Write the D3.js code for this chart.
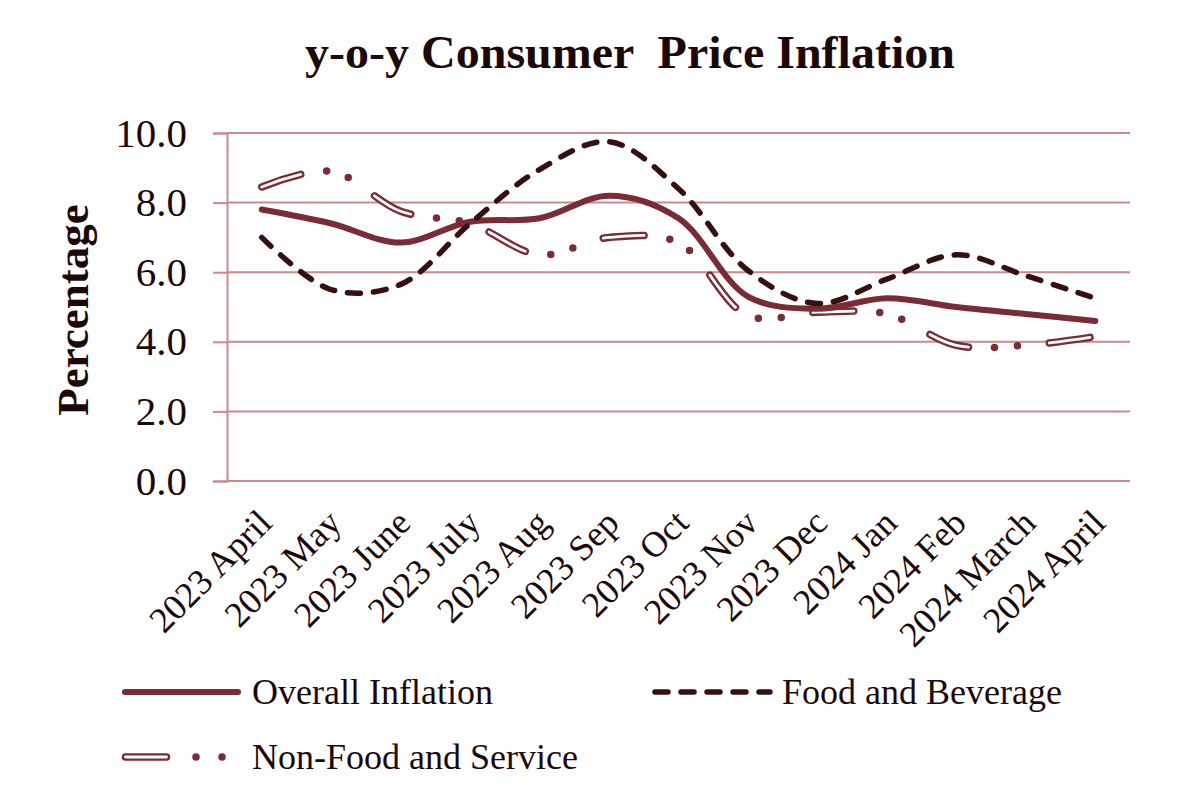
<!DOCTYPE html>
<html><head><meta charset="utf-8">
<script src="https://cdn.jsdelivr.net/npm/d3@7"></script>
<style>body{margin:0;background:#fff}svg{display:block}text{font-family:"Liberation Serif","Times New Roman",serif;fill:#1c0808}</style>
</head><body><svg id="c" width="1200" height="800"></svg>
<script>
const categories = ["2023 April","2023 May","2023 June","2023 July","2023 Aug","2023 Sep","2023 Oct","2023 Nov","2023 Dec","2024 Jan","2024 Feb","2024 March","2024 April"];
const overall = [7.8,7.4,6.85,7.45,7.55,8.2,7.55,5.3,4.95,5.25,5.0,4.8,4.6];
const foodBev = [7.0,5.5,5.65,7.4,8.95,9.75,8.4,6.05,5.1,5.8,6.5,5.9,5.25];
const nonFood = [8.45,8.9,7.75,7.4,6.5,7.0,6.85,4.75,4.85,4.8,3.9,3.9,4.15];
const yTicks = [0,2,4,6,8,10];
const title = "y-o-y Consumer  Price Inflation";
const yTitle = "Percentage";
const seriesNames = ["Overall Inflation","Food and Beverage","Non-Food and Service"];

const svg = d3.select("#c");
const L = 227, R = 1130, T = 133, B = 481;
const x = d3.scaleBand().domain(categories).range([L, R]);
const y = d3.scaleLinear().domain([0, 10]).range([B, T]);
const grid = "#c98a8c";
const cOverall = "#7a2c34", cFood = "#36100f", cNon = "#7a2c34";
const foodDash = "13 13";
const nonPat = "41 26 0 23 0 32", nonInner = "41 81";

// title
svg.append("text").attr("x", 630).attr("y", 68).attr("text-anchor","middle")
  .attr("font-size", 47).attr("font-weight","bold").attr("textLength", 650).attr("lengthAdjust","spacingAndGlyphs")
  .style("white-space","pre").text(title);

// y axis
const yAxis = svg.append("g").attr("transform", `translate(${L},0)`)
  .call(d3.axisLeft(y).tickValues(yTicks).tickFormat(d3.format(".1f")).tickSize(14).tickPadding(26));
yAxis.select(".domain").attr("stroke", grid).attr("stroke-width", 2);
yAxis.selectAll(".tick line").attr("stroke", grid).attr("stroke-width", 2);
yAxis.selectAll(".tick text").attr("font-size", 41).attr("font-family","Liberation Serif").attr("fill","#1c0808");
// gridlines
svg.append("g").selectAll("line").data(yTicks).join("line")
  .attr("x1", L).attr("x2", R).attr("y1", d => y(d)).attr("y2", d => y(d))
  .attr("stroke", grid).attr("stroke-width", 2);

// y title
svg.append("text").attr("transform", `translate(88,310) rotate(-90)`).attr("text-anchor","middle")
  .attr("font-size", 45).attr("font-weight","bold").text(yTitle);

// x labels
svg.append("g").selectAll("text").data(categories).join("text")
  .attr("transform", d => `translate(${x(d)+x.bandwidth()/2+12},${B+44}) rotate(-45)`)
  .attr("text-anchor","end").attr("font-size", 36).text(d => d);

const line = d3.line().x((d,i) => x(categories[i]) + x.bandwidth()/2).y(d => y(d)).curve(d3.curveCatmullRom.alpha(0.5));

// non-food (compound dash-dot-dot)
svg.append("path").datum(nonFood).attr("d", line).attr("fill","none").attr("stroke", cNon)
  .attr("stroke-width", 7.5).attr("stroke-linecap","round").attr("stroke-dasharray", nonPat);
svg.append("path").datum(nonFood).attr("d", line).attr("fill","none").attr("stroke", "#fff")
  .attr("stroke-width", 2.8).attr("stroke-linecap","round").attr("stroke-dasharray", nonInner);
// overall
svg.append("path").datum(overall).attr("d", line).attr("fill","none").attr("stroke", cOverall)
  .attr("stroke-width", 6).attr("stroke-linecap","round");
// food
svg.append("path").datum(foodBev).attr("d", line).attr("fill","none").attr("stroke", cFood)
  .attr("stroke-width", 5.5).attr("stroke-dasharray", foodDash).attr("stroke-linecap","round");

// legend
const lg = svg.append("g");
lg.append("line").attr("x1",125).attr("x2",238).attr("y1",692).attr("y2",692)
  .attr("stroke", cOverall).attr("stroke-width",6).attr("stroke-linecap","round");
lg.append("text").attr("x",252).attr("y",704).attr("font-size",36).text(seriesNames[0]);
lg.append("line").attr("x1",655).attr("x2",770).attr("y1",692).attr("y2",692)
  .attr("stroke", cFood).attr("stroke-width",5.5).attr("stroke-dasharray", foodDash).attr("stroke-linecap","round");
lg.append("text").attr("x",782).attr("y",704).attr("font-size",36).text(seriesNames[1]);
lg.append("line").attr("x1",125.5).attr("x2",240).attr("y1",757).attr("y2",757)
  .attr("stroke", cNon).attr("stroke-width",7.5).attr("stroke-linecap","round").attr("stroke-dasharray","41 29.5 0 26 0 100");
lg.append("line").attr("x1",125.5).attr("x2",240).attr("y1",757).attr("y2",757)
  .attr("stroke", "#fff").attr("stroke-width",2.8).attr("stroke-linecap","round").attr("stroke-dasharray","41 200");
lg.append("text").attr("x",252).attr("y",769).attr("font-size",36).text(seriesNames[2]);
</script></body></html>
